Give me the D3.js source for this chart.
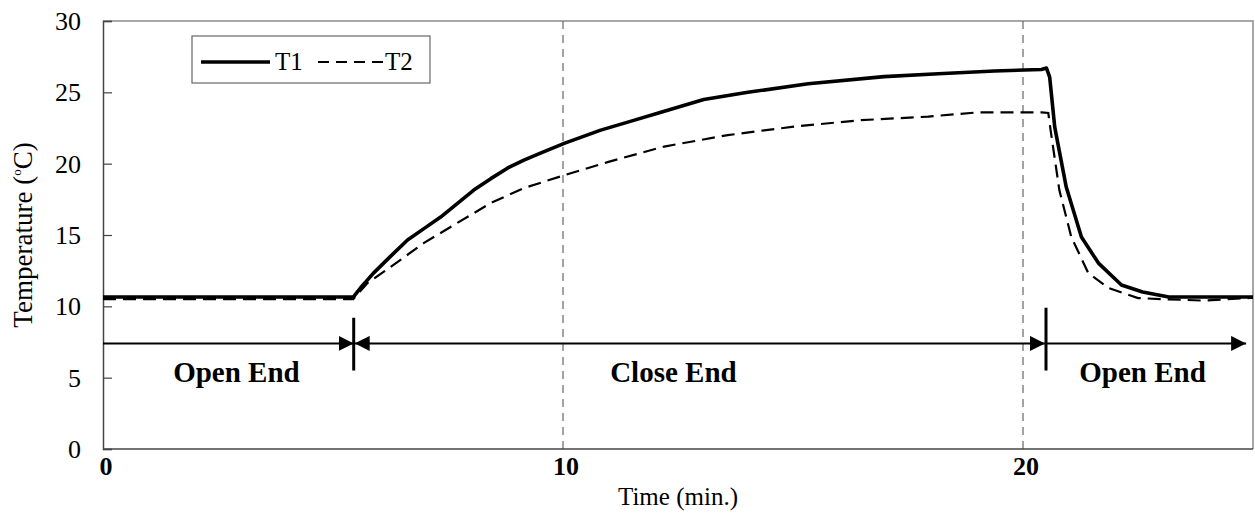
<!DOCTYPE html>
<html>
<head>
<meta charset="utf-8">
<script src="https://cdn.jsdelivr.net/npm/d3@7"></script>
<style>
  body { margin: 0; background: #fff; }
  svg { display: block; font-family: "Liberation Serif", "Times New Roman", serif; }
</style>
</head>
<body>
<div id="chart"></div>
<script>
// values (time in min., temperature in degC)
const t1Time = [0, 5.44, 5.6, 5.88, 6.25, 6.62, 7.0, 7.34, 7.7, 8.06, 8.43, 8.8, 9.15, 9.51, 10.04, 10.82, 11.5, 12.13, 13.06, 14.02, 15.33, 16.98, 18.16, 19.38, 20.4, 20.51, 20.58, 20.69, 20.94, 21.27, 21.64, 22.14, 22.6, 23.17, 25];
const t1Temp = [10.65, 10.65, 11.3, 12.33, 13.5, 14.65, 15.5, 16.26, 17.2, 18.15, 18.95, 19.7, 20.25, 20.74, 21.44, 22.35, 23.0, 23.6, 24.5, 25.0, 25.6, 26.1, 26.3, 26.5, 26.6, 26.7, 26.07, 22.56, 18.36, 14.86, 13.03, 11.5, 11.0, 10.65, 10.65];

const t2Time = [0, 5.44, 5.75, 6.25, 6.97, 7.7, 8.43, 9.15, 10.04, 10.97, 12.2, 13.58, 15.02, 16.48, 17.94, 19.03, 20.4, 20.55, 20.6, 20.79, 21.05, 21.42, 21.86, 22.5, 23.08, 23.95, 25];
const t2Temp = [10.5, 10.5, 11.63, 12.75, 14.43, 15.84, 17.24, 18.29, 19.2, 20.11, 21.2, 22.0, 22.6, 23.05, 23.3, 23.6, 23.6, 23.55, 22.35, 18.15, 14.86, 12.33, 11.28, 10.58, 10.5, 10.4, 10.6];

const yTicks = [0, 5, 10, 15, 20, 25, 30];
const xTicks = [0, 10, 20];
const gridTimes = [10, 20];

// phase boundaries, arrows and their labels
const phaseBounds = [0, 5.45, 20.5, 24.85];
const phaseNames = ["Open End", "Close End", "Open End"];
const phaseLabelTime = [2.9, 12.4, 22.6];
const arrowTemp = 7.4;

const width = 1255, height = 513;
const margin = {left: 103, right: 2, top: 21, bottom: 64};

const svg = d3.select("#chart").append("svg")
    .attr("width", width)
    .attr("height", height);

const x = d3.scaleLinear().domain([0, 25]).range([margin.left, width - margin.right]);
const y = d3.scaleLinear().domain([0, 30]).range([height - margin.bottom, margin.top]);

// arrow heads
const defs = svg.append("defs");
defs.append("marker")
    .attr("id", "head")
    .attr("viewBox", "0 0 15 15")
    .attr("refX", 15).attr("refY", 7.5)
    .attr("markerWidth", 15).attr("markerHeight", 15)
    .attr("markerUnits", "userSpaceOnUse")
    .attr("orient", "auto-start-reverse")
  .append("path")
    .attr("d", "M0,0 L15,7.5 L0,15 Z")
    .attr("fill", "#000");

// frame (top + right)
svg.append("path")
    .attr("d", `M${x(0)},${y(30)} H${x(25)} V${y(0)}`)
    .attr("fill", "none")
    .attr("stroke", "#8a8a8a")
    .attr("stroke-width", 1.5);

// vertical dashed lines
svg.append("g").selectAll("line")
    .data(gridTimes)
    .join("line")
    .attr("x1", d => x(d)).attr("x2", d => x(d))
    .attr("y1", y(30)).attr("y2", y(0))
    .attr("stroke", "#666")
    .attr("stroke-width", 1.2)
    .attr("stroke-dasharray", "8,6");

// y axis
const yAxis = svg.append("g")
    .attr("transform", `translate(${x(0)},0)`)
    .call(d3.axisRight(y).tickValues(yTicks).tickSize(9).tickFormat(""));
yAxis.select(".domain").attr("stroke", "#444").attr("stroke-width", 1.5);
yAxis.selectAll(".tick line").attr("stroke", "#444").attr("stroke-width", 1.2);

svg.append("g").selectAll("text")
    .data(yTicks)
    .join("text")
    .attr("x", x(0) - 22)
    .attr("y", d => y(d))
    .attr("dy", "0.35em")
    .attr("text-anchor", "end")
    .attr("font-size", 26)
    .text(d => d);

// x axis
svg.append("line")
    .attr("x1", x(0)).attr("x2", x(25))
    .attr("y1", y(0)).attr("y2", y(0))
    .attr("stroke", "#444")
    .attr("stroke-width", 1.5);

svg.append("g").selectAll("text")
    .data(xTicks)
    .join("text")
    .attr("x", d => x(d) + 3)
    .attr("y", y(0) + 26)
    .attr("text-anchor", "middle")
    .attr("font-size", 26)
    .attr("font-weight", "bold")
    .text(d => d);

svg.append("text")
    .attr("x", 678)
    .attr("y", 505)
    .attr("text-anchor", "middle")
    .attr("font-size", 25)
    .text("Time (min.)");

const yLab = svg.append("text")
    .attr("transform", `translate(32,${y(15)}) rotate(-90)`)
    .attr("text-anchor", "middle")
    .attr("font-size", 27);
yLab.append("tspan").text("Temperature (");
yLab.append("tspan").attr("font-size", 13).attr("dy", -11).text("o");
yLab.append("tspan").attr("dy", 11).text("C)");

// data lines
const line = d3.line().x(d => x(d[0])).y(d => y(d[1]));
const t1 = d3.zip(t1Time, t1Temp);
const t2 = d3.zip(t2Time, t2Temp);

svg.append("path")
    .datum(t2)
    .attr("d", line)
    .attr("fill", "none")
    .attr("stroke", "#000")
    .attr("stroke-width", 2.2)
    .attr("stroke-dasharray", "13,7");

svg.append("path")
    .datum(t1)
    .attr("d", line)
    .attr("fill", "none")
    .attr("stroke", "#000")
    .attr("stroke-width", 3.6)
    .attr("stroke-linejoin", "round");

// phase arrows
const ay = y(arrowTemp);
svg.append("line")
    .attr("x1", x(phaseBounds[0])).attr("x2", x(phaseBounds[1]))
    .attr("y1", ay).attr("y2", ay)
    .attr("stroke", "#000").attr("stroke-width", 2)
    .attr("marker-end", "url(#head)");
svg.append("line")
    .attr("x1", x(phaseBounds[1]) + 1).attr("x2", x(phaseBounds[2]) - 1)
    .attr("y1", ay).attr("y2", ay)
    .attr("stroke", "#000").attr("stroke-width", 2)
    .attr("marker-start", "url(#head)")
    .attr("marker-end", "url(#head)");
svg.append("line")
    .attr("x1", x(phaseBounds[2])).attr("x2", x(phaseBounds[3]))
    .attr("y1", ay).attr("y2", ay)
    .attr("stroke", "#000").attr("stroke-width", 2)
    .attr("marker-end", "url(#head)");

// separators
svg.append("line")
    .attr("x1", x(phaseBounds[1])).attr("x2", x(phaseBounds[1]))
    .attr("y1", y(9.2)).attr("y2", y(5.5))
    .attr("stroke", "#000").attr("stroke-width", 3);
svg.append("line")
    .attr("x1", x(phaseBounds[2])).attr("x2", x(phaseBounds[2]))
    .attr("y1", y(9.9)).attr("y2", y(5.5))
    .attr("stroke", "#000").attr("stroke-width", 3);

svg.append("g").selectAll("text")
    .data(phaseNames)
    .join("text")
    .attr("x", (d, i) => x(phaseLabelTime[i]))
    .attr("y", y(4.7))
    .attr("text-anchor", "middle")
    .attr("font-size", 29)
    .attr("font-weight", "bold")
    .text(d => d);

// legend
const lg = svg.append("g");
lg.append("rect")
    .attr("x", 192).attr("y", 36)
    .attr("width", 238).attr("height", 47)
    .attr("fill", "#fff")
    .attr("stroke", "#666")
    .attr("stroke-width", 1.2);
lg.append("line")
    .attr("x1", 201).attr("x2", 270).attr("y1", 62).attr("y2", 62)
    .attr("stroke", "#000").attr("stroke-width", 3.5);
lg.append("text")
    .attr("x", 275).attr("y", 70)
    .attr("font-size", 25)
    .text("T1");
lg.append("line")
    .attr("x1", 318).attr("x2", 383).attr("y1", 62).attr("y2", 62)
    .attr("stroke", "#000").attr("stroke-width", 2)
    .attr("stroke-dasharray", "11,7");
lg.append("text")
    .attr("x", 385).attr("y", 70)
    .attr("font-size", 25)
    .text("T2");
</script>
</body>
</html>
